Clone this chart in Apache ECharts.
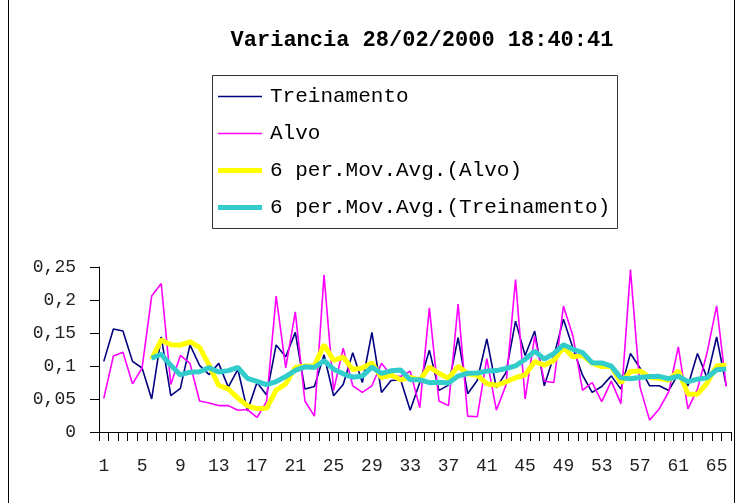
<!DOCTYPE html>
<html>
<head>
<meta charset="utf-8">
<script src="https://cdn.jsdelivr.net/npm/echarts@6/dist/echarts.min.js"></script>
<style>
  html, body { margin: 0; padding: 0; background: #fff; }
  #chart { width: 737px; height: 503px; }
</style>
</head>
<body>
<div id="chart"></div>
<script>
// Sample index 1..66
const categories = [];
for (let i = 1; i <= 66; i++) categories.push(String(i));

// Training variance per sample
const treinamento = [
  0.107, 0.156, 0.153, 0.107, 0.097, 0.050, 0.144, 0.055, 0.066, 0.132,
  0.101, 0.087, 0.104, 0.068, 0.095, 0.032, 0.075, 0.056, 0.132, 0.114,
  0.151, 0.065, 0.069, 0.117, 0.055, 0.072, 0.120, 0.075, 0.151, 0.060,
  0.078, 0.079, 0.033, 0.075, 0.124, 0.063, 0.071, 0.143, 0.058, 0.078,
  0.141, 0.067, 0.090, 0.168, 0.116, 0.153, 0.070, 0.115, 0.171, 0.127,
  0.086, 0.060, 0.069, 0.085, 0.065, 0.119, 0.097, 0.070, 0.070, 0.063,
  0.088, 0.070, 0.119, 0.082, 0.144, 0.070
];

// Target variance per sample
const alvo = [
  0.051, 0.115, 0.121, 0.073, 0.097, 0.206, 0.225, 0.072, 0.116, 0.104,
  0.047, 0.044, 0.040, 0.040, 0.033, 0.034, 0.022, 0.046, 0.206, 0.097,
  0.182, 0.047, 0.024, 0.238, 0.063, 0.127, 0.070, 0.060, 0.070, 0.104,
  0.086, 0.084, 0.092, 0.037, 0.188, 0.047, 0.040, 0.194, 0.024, 0.023,
  0.111, 0.033, 0.071, 0.231, 0.050, 0.145, 0.077, 0.075, 0.191, 0.145,
  0.063, 0.075, 0.046, 0.077, 0.043, 0.246, 0.068, 0.018, 0.035, 0.061,
  0.129, 0.035, 0.065, 0.120, 0.191, 0.069
];

const yTicks = [0, 0.05, 0.1, 0.15, 0.2, 0.25];
const maPeriod = 6;

// Trailing moving average trendline (first value at the 6th sample)
function movingAverage(values, period) {
  return values.map((v, i) => {
    if (i < period - 1) return null;
    let s = 0;
    for (let k = i - period + 1; k <= i; k++) s += values[k];
    return +(s / period).toFixed(4);
  });
}

const maAlvo = movingAverage(alvo, maPeriod);
const maTreinamento = movingAverage(treinamento, maPeriod);

const chart = echarts.init(document.getElementById('chart'), null, { renderer: 'canvas' });

const monoFont = '"Liberation Mono", "DejaVu Sans Mono", monospace';
// Legend keys: plain line strokes of two thicknesses
const thinKey = 'path://M0,0H44V1.6H0Z';
const thickKey = 'path://M0,0H44V5H0Z';

chart.setOption({
  animation: false,
  backgroundColor: '#ffffff',
  title: {
    text: 'Variancia 28/02/2000 18:40:41',
    left: 417,
    top: 24,
    textAlign: 'center',
    textStyle: { fontFamily: monoFont, fontWeight: 'bold', fontSize: 22, color: '#000' }
  },
  graphic: [
    {
      type: 'rect',
      shape: { x: 8.5, y: -2, width: 726, height: 510 },
      style: { fill: 'none', stroke: '#000', lineWidth: 1 },
      silent: true
    },
    {
      type: 'rect',
      shape: { x: 212.5, y: 75.5, width: 405, height: 153 },
      style: { fill: '#fff', stroke: '#333', lineWidth: 1 },
      z: 0,
      silent: true
    }
  ],
  legend: {
    orient: 'vertical',
    left: 212,
    top: 79,
    padding: [7, 6, 7, 6],
    itemWidth: 44,
    itemHeight: 14,
    itemGap: 16,
    z: 5,
    textStyle: { fontFamily: monoFont, fontSize: 21, color: '#000', padding: [0, 0, 0, 3] },
    data: [
      { name: 'Treinamento', icon: thinKey },
      { name: 'Alvo', icon: thinKey },
      { name: '6 per.Mov.Avg.(Alvo)', icon: thickKey },
      { name: '6 per.Mov.Avg.(Treinamento)', icon: thickKey }
    ]
  },
  grid: { left: 99, right: 6, top: 267, bottom: 71, containLabel: false },
  xAxis: {
    type: 'category',
    data: categories,
    boundaryGap: true,
    axisLine: { lineStyle: { color: '#000', width: 1 } },
    axisTick: { show: true, interval: 0, length: 9, lineStyle: { color: '#000' } },
    axisLabel: {
      interval: 3,
      margin: 25,
      fontFamily: monoFont,
      fontSize: 18,
      color: '#222'
    },
    splitLine: { show: false }
  },
  yAxis: {
    type: 'value',
    min: yTicks[0],
    max: yTicks[yTicks.length - 1],
    interval: 0.05,
    axisLine: { show: true, lineStyle: { color: '#000', width: 1 } },
    axisTick: { show: true, length: 9, lineStyle: { color: '#000' } },
    axisLabel: {
      margin: 23,
      fontFamily: monoFont,
      fontSize: 18,
      color: '#222',
      formatter: v => String(+v.toFixed(2)).replace('.', ',')
    },
    splitLine: { show: false }
  },
  series: [
    {
      name: 'Treinamento',
      type: 'line',
      data: treinamento,
      symbol: 'none',
      lineStyle: { color: '#000080', width: 1.6 },
      itemStyle: { color: '#000080' },
      z: 2
    },
    {
      name: 'Alvo',
      type: 'line',
      data: alvo,
      symbol: 'none',
      lineStyle: { color: '#ff00ff', width: 1.6 },
      itemStyle: { color: '#ff00ff' },
      z: 3
    },
    {
      name: '6 per.Mov.Avg.(Alvo)',
      type: 'line',
      data: maAlvo,
      symbol: 'none',
      lineStyle: { color: '#ffff00', width: 5 },
      itemStyle: { color: '#ffff00' },
      z: 4
    },
    {
      name: '6 per.Mov.Avg.(Treinamento)',
      type: 'line',
      data: maTreinamento,
      symbol: 'none',
      lineStyle: { color: '#33cccc', width: 5 },
      itemStyle: { color: '#33cccc' },
      z: 5
    }
  ]
});
</script>
</body>
</html>
